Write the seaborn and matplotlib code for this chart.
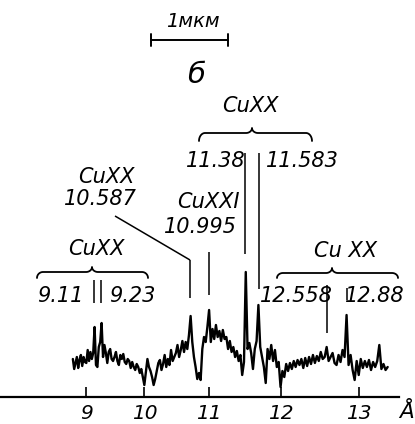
import numpy as np
import matplotlib
matplotlib.use("Agg")
import matplotlib.pyplot as plt
import seaborn as sns

# ---------------- data ----------------
wavelength = np.linspace(8.75, 13.35, 185)  # Å
intensity = [
    38, 28, 34, 40, 29, 37, 42, 31, 40, 35,
    34, 47, 36, 45, 38, 44, 70, 32, 30, 50,
    55, 74, 40, 52, 44, 34, 45, 48, 38, 36,
    40, 45, 36, 32, 42, 38, 43, 35, 33, 38,
    36, 29, 35, 30, 27, 33, 30, 24, 28, 20,
    12, 25, 38, 30, 26, 20, 12, 18, 26, 34,
    37, 27, 33, 42, 30, 38, 32, 47, 36, 40,
    44, 52, 40, 47, 56, 45, 55, 48, 62, 81,
    55, 40, 30, 18, 24, 17, 48, 60, 55, 70,
    87, 55, 68, 58, 72, 60, 66, 56, 67, 58,
    60, 48, 56, 45, 50, 40, 46, 36, 42, 22,
    35, 125, 48, 54, 44, 28, 48, 56, 92, 50,
    40, 30, 14, 48, 38, 52, 36, 47, 30, 35,
    10, 26, 20, 33, 26, 34, 28, 36, 30, 37,
    32, 38, 29, 39, 31, 40, 33, 42, 34, 41,
    36, 45, 38, 40, 50, 36, 40, 44, 34, 32,
    42, 35, 47, 40, 82, 32, 42, 27, 17, 36,
    22, 38, 29, 36, 30, 37, 27, 35, 30, 36,
    52, 28, 33, 27, 30,
]
tick_values = [9, 10, 11, 12, 13]
tick_labels = ["9", "10", "11", "12", "13"]
line_labels = ["9.11", "9.23", "10.587", "10.995", "11.38", "11.583", "12.558", "12.88"]
line_pos = [9.14, 9.265, 10.716, 11.0, 11.514, 11.708, 12.607, 12.857]
ion_labels = ["CuXX", "CuXX", "CuXXI", "CuXX", "Cu XX"]

# ---------------- scale (nonlinear dispersion of the spectrograph) ----------------
A0, B0, C0 = 209.09, 68.1, 3.357


def fwd(lam):
    d = np.asarray(lam, dtype=float) - 11.0
    return A0 + B0 * d + C0 * d * d


def inv(p):
    p = np.asarray(p, dtype=float)
    disc = np.maximum(B0 ** 2 + 4 * C0 * (p - A0), 0.0)
    return 11.0 + (-B0 + np.sqrt(disc)) / (2 * C0)


def P(xp, yp):
    return float(inv(xp)), 397.0 - yp


sns.set_style("white")
plt.rcParams["font.family"] = ["DejaVu Sans"]
plt.rcParams["text.color"] = "black"

fig = plt.figure(figsize=(4.15, 4.24), dpi=100)
ax = fig.add_axes([0, 0, 1, 1])
ax.set_xscale("function", functions=(fwd, inv))
ax.set_xlim(float(inv(0)), float(inv(415)))
ax.set_ylim(-27, 397)

sns.lineplot(x=wavelength, y=intensity, ax=ax, color="black", linewidth=1.7)

# axis
for s in ["top", "right", "left"]:
    ax.spines[s].set_visible(False)
ax.spines["bottom"].set_position(("data", 0))
ax.spines["bottom"].set_bounds(float(inv(0)), float(inv(399)))
ax.spines["bottom"].set_linewidth(1.6)
ax.spines["bottom"].set_color("black")
ax.set_yticks([])
ax.set_xticks(tick_values, tick_labels)
ax.tick_params(axis="x", direction="in", length=7.2, width=1.2, pad=5,
               labelsize=14.5, colors="black", bottom=True)
for lbl in ax.get_xticklabels():
    lbl.set_style("italic")
ax.text(*P(407, 418), "Å", fontsize=15.5, style="italic", ha="center", va="baseline")

LW = 1.1
tk = dict(color="black", lw=LW, solid_capstyle="butt")

# leader lines
ytops = [280, 280, 260, 252, 153, 153, 285, 288]
ybots = [303, 303, 298, 295, 254, 289, 333, 300]
for lam, yt, yb in zip(line_pos, ytops, ybots):
    ax.plot([lam, lam], [397 - yt, 397 - yb], **tk)
# diagonal leader for 10.587
x1, y1 = P(115, 216)
ax.plot([x1, line_pos[2]], [y1, 397 - 260], **tk)


def brace(x0, x1, xm, y, h_end, h_mid, r=6):
    t = np.linspace(0, np.pi / 2, 15)
    xs, ys = [], []
    xs += list(x0 + r - r * np.cos(t)); ys += list(y + h_end - h_end * np.sin(t))
    xs += list(xm - r + r * np.sin(t)); ys += list(y - h_mid + h_mid * np.cos(t))
    xs += list(xm + r - r * np.cos(t)); ys += list(y - h_mid + h_mid * np.sin(t))
    xs += list(x1 - r + r * np.sin(t)); ys += list(y + h_end - h_end * np.cos(t))
    lx = inv(np.array(xs))
    ly = 397 - np.array(ys)
    ax.plot(lx, ly, color="black", lw=1.3)


brace(199, 312, 252, 133, 8, 5)
brace(37, 148, 92, 272, 6, 5)
brace(277, 398, 332, 273, 5, 5)

fs = 15
txt = dict(fontsize=fs, style="italic", ha="center", va="baseline", color="black")
# ion labels
ax.text(*P(250, 112), ion_labels[0], **txt)
ax.text(*P(106, 183), ion_labels[1], **txt)
ax.text(*P(208, 208), ion_labels[2], **txt)
ax.text(*P(96, 255), ion_labels[3], **txt)
ax.text(*P(346, 257), ion_labels[4], **txt)
# wavelength labels
label_xy = [(60, 302), (132, 302), (100, 205), (200, 233), (216, 167), (302, 167),
            (296, 302), (375, 302)]
for s, (xp, yp) in zip(line_labels, label_xy):
    ax.text(*P(xp, yp), s, **txt)

# scale bar
xa, ya = P(151, 40)
xb, _ = P(228, 40)
ax.plot([xa, xb], [ya, ya], color="black", lw=1.4)
for xx in (xa, xb):
    ax.plot([xx, xx], [397 - 34, 397 - 46], color="black", lw=1.4)
ax.text(*P(193, 27), "1мкм", fontsize=14, style="italic", ha="center", va="baseline")
ax.text(*P(196, 83), "б", fontsize=21, style="italic", ha="center", va="baseline")

fig.savefig("out.png", dpi=100, facecolor="white")
